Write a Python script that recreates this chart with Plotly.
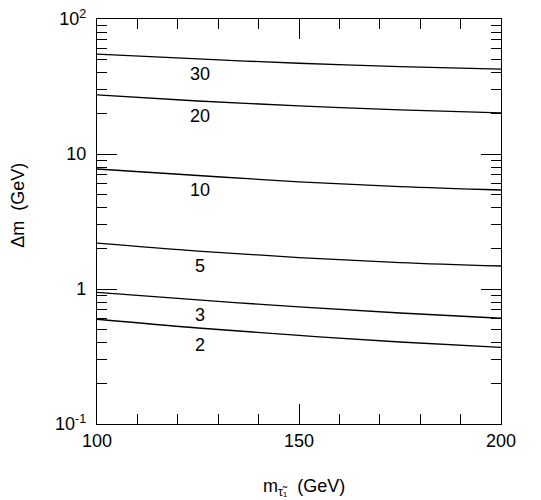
import plotly.graph_objects as go
import numpy as np

# stau mass (GeV)
m_stau = [100, 125, 150, 175, 200]

# delta m (GeV) contours, keyed by label
curves = {
    "30": [55.0, 50.6, 47.0, 44.4, 42.6],
    "20": [27.4, 24.7, 22.7, 21.2, 20.2],
    "10": [7.74, 6.93, 6.21, 5.73, 5.41],
    "5": [2.19, 1.91, 1.71, 1.57, 1.48],
    "3": [0.944, 0.830, 0.736, 0.664, 0.607],
    "2": [0.597, 0.514, 0.453, 0.405, 0.370],
}

# where the contour labels sit
label_x = 125.5
label_y = {"30": 39.2, "20": 19.1, "10": 5.41, "5": 1.48, "3": 0.64, "2": 0.385}

x_major = [100, 150, 200]
x_minor = [110, 120, 130, 140, 160, 170, 180, 190]
y_major = [0.1, 1, 10, 100]
y_major_text = ["10<sup>-1</sup>", "1", "10", "10<sup>2</sup>"]
y_minor = [k * d for d in (0.1, 1, 10) for k in range(2, 10)]

font = "Liberation Sans, Arial, Helvetica, sans-serif"
tfont = dict(size=18, color="black", family=font)

fig = go.Figure()
for name, vals in curves.items():
    fig.add_trace(go.Scatter(x=m_stau, y=vals, mode="lines", line_shape="spline",
                             line=dict(color="black", width=1.3), showlegend=False))

for name, yv in label_y.items():
    fig.add_annotation(x=label_x, y=np.log10(yv), text=name, showarrow=False, font=tfont)

# axis titles
fig.add_annotation(x=0.512, y=-0.157, xref="paper", yref="paper", text="m<sub>τ̃₁</sub>  (GeV)",
                   showarrow=False, xanchor="center", yanchor="middle", font=tfont)
fig.add_annotation(x=-0.196, y=0.541, xref="paper", yref="paper", text="Δm  (GeV)",
                   textangle=-90, showarrow=False, xanchor="center", yanchor="middle", font=tfont)

fig.update_xaxes(range=[100, 200], tickvals=x_major, ticks="inside", ticklen=20,
                 tickwidth=1, tickcolor="black", showline=True, linecolor="black",
                 linewidth=1.3, mirror="ticks", showgrid=False, zeroline=False,
                 automargin=False, tickfont=tfont,
                 minor=dict(tickvals=x_minor, ticks="inside", ticklen=10,
                            tickcolor="black", tickwidth=1, showgrid=False))
fig.update_yaxes(type="log", range=[-1, 2], tickvals=y_major, ticktext=y_major_text,
                 ticks="inside", ticklen=20, tickwidth=1, tickcolor="black",
                 showline=True, linecolor="black", linewidth=1.3, mirror="ticks",
                 showgrid=False, zeroline=False, ticklabelstandoff=6,
                 automargin=False, tickfont=tfont,
                 minor=dict(tickvals=y_minor, ticks="inside", ticklen=10,
                            tickcolor="black", tickwidth=1, showgrid=False))

fig.update_layout(width=541, height=500, margin=dict(l=97, r=40, t=19, b=76),
                  plot_bgcolor="white", paper_bgcolor="white",
                  font=dict(family=font, color="black"))

# drop the browser's default body margin so the figure sits at the page corner
fig.write_html("out.html", config={"displayModeBar": False},
               post_script="document.body.style.margin='0';")
